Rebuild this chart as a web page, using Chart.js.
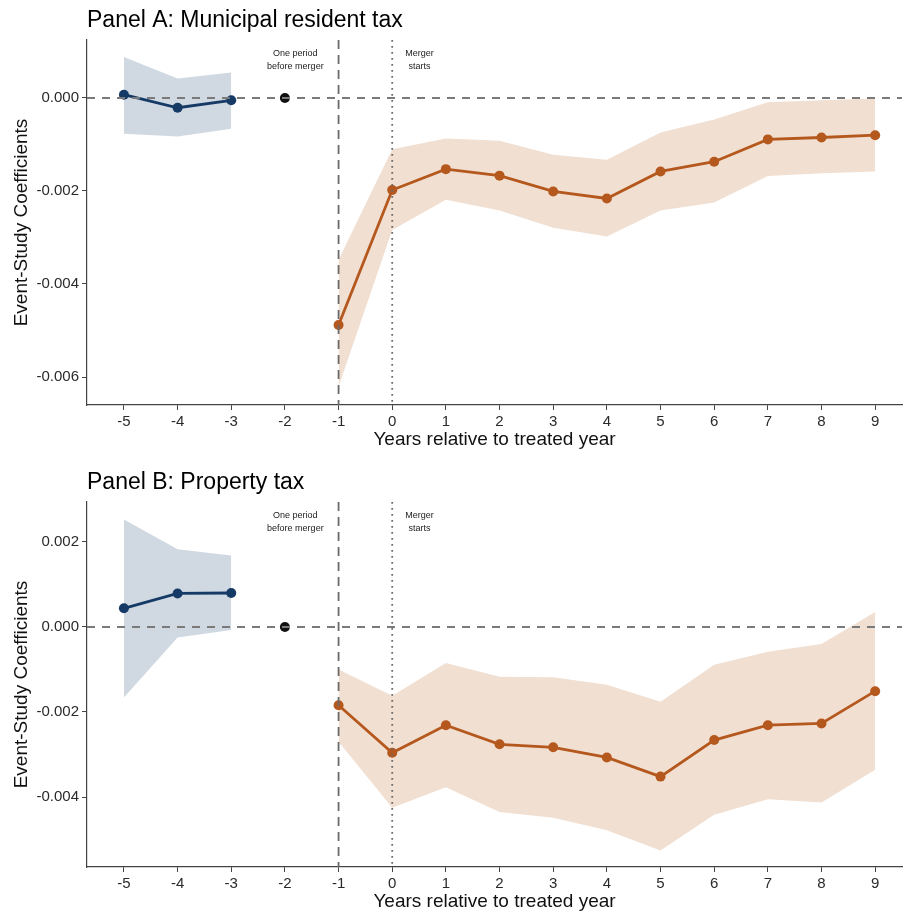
<!DOCTYPE html>
<html><head><meta charset="utf-8">
<script src="https://cdn.jsdelivr.net/npm/chart.js@4"></script>
<style>
html,body{margin:0;padding:0;background:#fff;overflow:hidden;}
#wrap{position:relative;width:907px;height:915px;}
canvas{position:absolute;left:0;}
</style></head><body>
<div id="wrap">
<canvas id="ca" width="907" height="462" style="top:0"></canvas>
<canvas id="cb" width="907" height="453" style="top:462px"></canvas>
</div>
<script>
// ---- data ----
const yearsPre = [-5, -4, -3];
const yearRef = [-2];
const yearsPost = [-1, 0, 1, 2, 3, 4, 5, 6, 7, 8, 9];
const xTickValues = [-5, -4, -3, -2, -1, 0, 1, 2, 3, 4, 5, 6, 7, 8, 9];

// Panel A: Municipal resident tax
const aPre   = [0.00007, -0.00021, -0.00005];
const aPreLo = [-0.00077, -0.00083, -0.00066];
const aPreHi = [0.00088, 0.00042, 0.00055];
const aPost   = [-0.00488, -0.00198, -0.00153, -0.00167, -0.00201, -0.00216, -0.00158, -0.00137, -0.00089, -0.00085, -0.00080];
const aPostLo = [-0.00621, -0.00284, -0.00219, -0.00242, -0.00279, -0.00298, -0.00242, -0.00225, -0.00168, -0.00162, -0.00158];
const aPostHi = [-0.00348, -0.00110, -0.00087, -0.00092, -0.00122, -0.00133, -0.00074, -0.00046, -0.00009, -0.00005, -0.00001];
const aYTicks = [0, -0.002, -0.004, -0.006];

// Panel B: Property tax
const bPre   = [0.00044, 0.00079, 0.00080];
const bPreLo = [-0.00166, -0.00025, -0.00007];
const bPreHi = [0.00253, 0.00183, 0.00168];
const bPost   = [-0.00184, -0.00296, -0.00231, -0.00276, -0.00283, -0.00307, -0.00352, -0.00266, -0.00231, -0.00227, -0.00151];
const bPostLo = [-0.00270, -0.00425, -0.00377, -0.00435, -0.00449, -0.00478, -0.00526, -0.00442, -0.00405, -0.00413, -0.00336];
const bPostHi = [-0.00100, -0.00162, -0.00085, -0.00117, -0.00118, -0.00136, -0.00176, -0.00089, -0.00058, -0.00040, 0.00035];
const bYTicks = [0.002, 0, -0.002, -0.004];

const refValue = [0];
const annotLeft = ['One period', 'before merger'];
const annotRight = ['Merger', 'starts'];

// ---- styles ----
const FONT = '"Liberation Sans", Arial, Helvetica, sans-serif';
const NAVY = '#163a66';
const ORANGE = '#b5581d';
const NAVY_BAND = '#d0d9e1';
const ORANGE_BAND = '#f1dfd2';
const AXIS = '#444';

function pts(xs, ys) { return xs.map((x, i) => ({x: x, y: ys[i]})); }

const refPlugin = {
  id: 'refs',
  afterDatasetsDraw(chart, args, opts) {
    const {ctx, chartArea: ca, scales: {x, y}} = chart;
    ctx.save();
    ctx.beginPath();
    ctx.rect(ca.left, ca.top, ca.right - ca.left, ca.bottom - ca.top);
    ctx.clip();
    ctx.strokeStyle = '#7a7a7a';
    ctx.lineWidth = 1.8;
    ctx.setLineDash([8, 7]);
    const y0 = y.getPixelForValue(0);
    ctx.beginPath(); ctx.moveTo(ca.left, y0); ctx.lineTo(ca.right, y0); ctx.stroke();
    ctx.strokeStyle = '#6a6a6a';
    ctx.setLineDash([9, 6]);
    const xm1 = x.getPixelForValue(-1);
    ctx.beginPath(); ctx.moveTo(xm1, ca.top); ctx.lineTo(xm1, ca.bottom); ctx.stroke();
    ctx.setLineDash([1.8, 4.2]);
    ctx.lineWidth = 1.8;
    const x0 = x.getPixelForValue(0);
    ctx.beginPath(); ctx.moveTo(x0, ca.top); ctx.lineTo(x0, ca.bottom); ctx.stroke();
    ctx.restore();
    ctx.save();
    ctx.fillStyle = '#222';
    ctx.font = '9px ' + FONT;
    ctx.textAlign = 'center';
    ctx.textBaseline = 'middle';
    const xl = x.getPixelForValue(-1.805), xr = x.getPixelForValue(0.51);
    ctx.fillText(annotLeft[0], xl, 54); ctx.fillText(annotLeft[1], xl, 66.5);
    ctx.fillText(annotRight[0], xr, 54); ctx.fillText(annotRight[1], xr, 66.5);
    ctx.restore();
  },
  afterDraw(chart, args, opts) {
    const ctx = chart.ctx;
    ctx.save();
    ctx.fillStyle = '#000';
    ctx.font = '23px ' + FONT;
    ctx.textAlign = 'left';
    ctx.textBaseline = 'alphabetic';
    ctx.fillText(opts.title, 87, 27);
    ctx.restore();
  }
};

function makeChart(id, title, pre, preLo, preHi, post, postLo, postHi, yTicks, yMin, yMax, canvasH) {
  const xH = canvasH - 405;
  return new Chart(document.getElementById(id), {
    type: 'line',
    data: {
      datasets: [
        {data: pts(yearsPre, pre), borderColor: NAVY, backgroundColor: NAVY, borderWidth: 2.8,
         pointRadius: 5, pointHoverRadius: 5, pointBorderWidth: 0, pointBackgroundColor: NAVY, fill: false, order: 0},
        {data: pts(yearsPost, post), borderColor: ORANGE, backgroundColor: ORANGE, borderWidth: 2.8,
         pointRadius: 5, pointHoverRadius: 5, pointBorderWidth: 0, pointBackgroundColor: ORANGE, fill: false, order: 0},
        {data: pts(yearRef, refValue), showLine: false, pointRadius: 5, pointBorderWidth: 0,
         pointBackgroundColor: '#111', borderColor: '#111', fill: false, order: 0},
        {data: pts(yearsPre, preLo), borderColor: 'rgba(0,0,0,0)', borderWidth: 0, pointRadius: 0, fill: false, order: 1},
        {data: pts(yearsPre, preHi), borderColor: 'rgba(0,0,0,0)', borderWidth: 0, pointRadius: 0,
         backgroundColor: NAVY_BAND, fill: '-1', order: 1},
        {data: pts(yearsPost, postLo), borderColor: 'rgba(0,0,0,0)', borderWidth: 0, pointRadius: 0, fill: false, order: 1},
        {data: pts(yearsPost, postHi), borderColor: 'rgba(0,0,0,0)', borderWidth: 0, pointRadius: 0,
         backgroundColor: ORANGE_BAND, fill: '-1', order: 1}
      ]
    },
    options: {
      responsive: false,
      animation: false,
      devicePixelRatio: 1,
      layout: {padding: {left: 0, right: 0, top: 40, bottom: 0}},
      elements: {line: {tension: 0}},
      plugins: {legend: {display: false}, tooltip: {enabled: false}, title: {display: false}, refs: {title: title}},
      scales: {
        x: {
          type: 'linear', min: -5.688, max: 9.50,
          afterBuildTicks: s => { s.ticks = xTickValues.map(v => ({value: v})); },
          afterFit: s => { s.height = xH; },
          grid: {display: true, drawOnChartArea: false, drawTicks: true, tickLength: 5, color: AXIS, lineWidth: 1},
          border: {display: true, color: AXIS, width: 1.2},
          ticks: {font: {family: FONT, size: 15}, color: '#2a2a2a', padding: 3, maxRotation: 0, autoSkip: false,
                  callback: v => String(v)},
          title: {display: true, text: 'Years relative to treated year', color: '#111',
                  font: {family: FONT, size: 19}, padding: {top: 0, bottom: canvasH - 440 - 11.4}}
        },
        y: {
          type: 'linear', min: yMin, max: yMax,
          afterBuildTicks: s => { s.ticks = yTicks.map(v => ({value: v})); },
          afterFit: s => { s.width = 87; },
          grid: {display: true, drawOnChartArea: false, drawTicks: true, tickLength: 5, color: AXIS, lineWidth: 1},
          border: {display: true, color: AXIS, width: 1.2},
          ticks: {font: {family: FONT, size: 15}, color: '#2a2a2a', padding: 3, autoSkip: false,
                  callback: v => Number(v).toFixed(3)},
          title: {display: true, text: 'Event-Study Coefficients', color: '#111',
                  font: {family: FONT, size: 19}, padding: {top: 10.6, bottom: 0}}
        }
      }
    },
    plugins: [refPlugin]
  });
}

makeChart('ca', 'Panel A: Municipal resident tax', aPre, aPreLo, aPreHi, aPost, aPostLo, aPostHi,
          aYTicks, -0.006602, 0.001247, 462);
makeChart('cb', 'Panel B: Property tax', bPre, bPreLo, bPreHi, bPost, bPostLo, bPostHi,
          bYTicks, -0.005647, 0.002941, 453);
</script>
</body></html>
